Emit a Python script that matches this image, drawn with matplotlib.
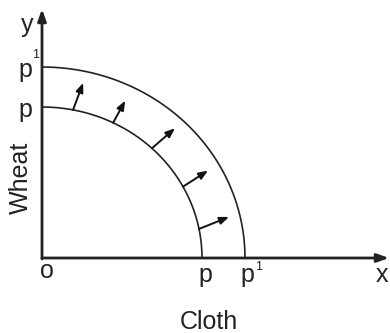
import numpy as np
import matplotlib
matplotlib.use("Agg")
import matplotlib.pyplot as plt

# Curves: quarter-ellipse intercepts (cloth, wheat) in chart units
inner_curve = {"cloth": 160, "wheat": 151}
outer_curve = {"cloth": 203, "wheat": 191}
# Arrow start positions along inner curve (parametric angle, degrees) and arrow vectors
arrow_angles = [78.8, 63.6, 46.6, 28.2, 11.1]
arrow_dx = [10, 12, 23, 25, 30]
arrow_dy = [27, 22, 20, 16, 12]
x_axis_label = "Cloth"
y_axis_label = "Wheat"

plt.rcParams['font.family'] = ['Liberation Sans', 'DejaVu Sans']

fig = plt.figure(figsize=(3.9, 3.33), dpi=100)
ax = fig.add_axes([0, 0, 1, 1])
ax.set_xlim(-42, 348)
ax.set_ylim(-75, 258)
ax.axis('off')

t = np.linspace(0, np.pi / 2, 300)
for c in (inner_curve, outer_curve):
    ax.plot(c["cloth"] * np.cos(t), c["wheat"] * np.sin(t), color='#222222', lw=1.2,
            solid_capstyle='butt')

# axes with arrow heads
ax.annotate('', xy=(347, 0), xytext=(0, 0),
            arrowprops=dict(arrowstyle='-|>,head_length=0.7,head_width=0.25', color='#222222', lw=2,
                            shrinkA=0, shrinkB=0))
ax.annotate('', xy=(0, 249), xytext=(0, -1),
            arrowprops=dict(arrowstyle='-|>,head_length=0.7,head_width=0.25', color='#222222', lw=2,
                            shrinkA=0, shrinkB=0))

for ang, dx, dy in zip(arrow_angles, arrow_dx, arrow_dy):
    a = np.radians(ang)
    x0 = inner_curve["cloth"] * np.cos(a)
    y0 = inner_curve["wheat"] * np.sin(a)
    ax.annotate('', xy=(x0 + dx, y0 + dy), xytext=(x0, y0),
                arrowprops=dict(arrowstyle='-|>,head_length=0.55,head_width=0.22', color='#111111', lw=1.4,
                                shrinkA=0, shrinkB=0))

fs = 18
col = '#222222'
# y-axis labels
ax.text(-15, 233, 'y', fontsize=fs, ha='center', va='center', color=col)
ax.text(-17, 188, 'p', fontsize=fs, ha='center', va='center', color=col)
ax.text(-6.5, 203, '1', fontsize=9, ha='center', va='center', color=col)
ax.text(-17, 148, 'p', fontsize=fs, ha='center', va='center', color=col)
ax.text(-21, 80, y_axis_label, fontsize=fs, ha='center', va='center', rotation=90, color=col)
# x-axis labels
ax.text(5, -13, 'o', fontsize=fs, ha='center', va='center', color=col)
ax.text(inner_curve["cloth"] + 3, -17, 'p', fontsize=fs, ha='center', va='center', color=col)
ax.text(outer_curve["cloth"] + 2, -17, 'p', fontsize=fs, ha='center', va='center', color=col)
ax.text(outer_curve["cloth"] + 13.5, -8.5, '1', fontsize=9, ha='center', va='center', color=col)
ax.text(340, -17, 'x', fontsize=fs, ha='center', va='center', color=col)
ax.text(167, -64, x_axis_label, fontsize=fs, ha='center', va='center', color=col)

fig.savefig('out.png', dpi=100)
